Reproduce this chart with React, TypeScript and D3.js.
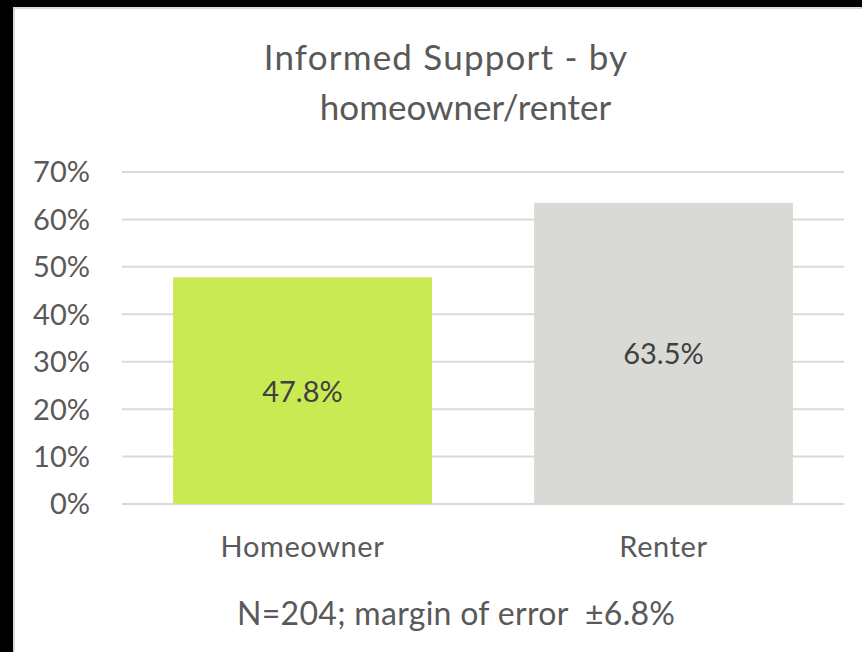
import React, { useEffect, useRef } from 'react';
import * as d3 from 'd3';

const categories = ['Homeowner', 'Renter'];
const values = [47.8, 63.5];
const barColors = ['#C9EA52', '#D9D9D6'];
const yTicks = [0, 10, 20, 30, 40, 50, 60, 70];
const titleLines = ['Informed Support - by', 'homeowner/renter'];
const footnote = 'N=204; margin of error  \u00B16.8%';

const W = 862;
const H = 652;
const FONT = 'Lato, "Open Sans", sans-serif';

const App = () => {
    const chartRef = useRef<HTMLDivElement>(null);

    useEffect(() => {
        document.body.style.margin = '0';
        drawChart();
    }, []);

    const drawChart = () => {
        d3.select(chartRef.current).selectAll('svg').remove();
        const svg = d3.select(chartRef.current)
            .append('svg')
            .attr('width', W)
            .attr('height', H)
            .style('display', 'block')
            .style('font-family', FONT);

        svg.append('rect').attr('width', W).attr('height', H).attr('fill', '#fff');

        // black frame on top and left, as in the screenshot
        svg.append('rect').attr('x', 0).attr('y', 0).attr('width', W).attr('height', 7).attr('fill', '#000');
        svg.append('rect').attr('x', 0).attr('y', 0).attr('width', 13).attr('height', H).attr('fill', '#000');
        svg.append('line').attr('x1', 13).attr('x2', W).attr('y1', 8).attr('y2', 8)
            .attr('stroke', '#d9d9d9').attr('stroke-width', 2);
        svg.append('line').attr('x1', 14).attr('x2', 14).attr('y1', 7).attr('y2', H)
            .attr('stroke', '#d9d9d9').attr('stroke-width', 2);

        const xScale = d3.scaleBand<string>()
            .domain(categories)
            .range([122, 844])
            .paddingInner(0.283)
            .paddingOuter(0.1415);

        const yScale = d3.scaleLinear()
            .domain([0, 70])
            .range([504, 172]);

        // gridlines
        svg.append('g')
            .selectAll('line')
            .data(yTicks)
            .enter()
            .append('line')
            .attr('x1', 122)
            .attr('x2', 844)
            .attr('y1', d => yScale(d))
            .attr('y2', d => yScale(d))
            .attr('stroke', '#d9d9d9')
            .attr('stroke-width', 2);

        // y tick labels
        svg.append('g')
            .selectAll('text')
            .data(yTicks)
            .enter()
            .append('text')
            .attr('x', 90)
            .attr('y', d => yScale(d))
            .attr('dy', '0.36em')
            .attr('text-anchor', 'end')
            .attr('fill', '#595959')
            .style('font-size', '29px')
            .text(d => d + '%');

        // bars
        svg.append('g')
            .selectAll('rect')
            .data(values)
            .enter()
            .append('rect')
            .attr('x', (d, i) => xScale(categories[i])!)
            .attr('y', d => yScale(d))
            .attr('width', xScale.bandwidth())
            .attr('height', d => yScale(0) - yScale(d))
            .attr('fill', (d, i) => barColors[i]);

        // value labels
        svg.append('g')
            .selectAll('text')
            .data(values)
            .enter()
            .append('text')
            .attr('x', (d, i) => xScale(categories[i])! + xScale.bandwidth() / 2)
            .attr('y', d => (yScale(d) + yScale(0)) / 2)
            .attr('dy', '0.38em')
            .attr('text-anchor', 'middle')
            .attr('fill', '#404040')
            .style('font-size', '29px')
            .text(d => d.toFixed(1) + '%');

        // category labels
        svg.append('g')
            .selectAll('text')
            .data(categories)
            .enter()
            .append('text')
            .attr('x', d => xScale(d)! + xScale.bandwidth() / 2)
            .attr('y', 557)
            .attr('text-anchor', 'middle')
            .attr('fill', '#595959')
            .style('font-size', '29px')
            .style('letter-spacing', '0.6px')
            .text(d => d);

        // title, two lines
        const titleX = [446, 465.5];
        svg.append('g')
            .selectAll('text')
            .data(titleLines)
            .enter()
            .append('text')
            .attr('x', (d, i) => titleX[i])
            .attr('y', (d, i) => 70 + i * 50)
            .attr('text-anchor', 'middle')
            .attr('fill', '#595959')
            .style('font-size', '35px')
            .style('letter-spacing', (d, i) => (i === 0 ? '1.2px' : '0px'))
            .text(d => d);

        svg.append('text')
            .attr('x', 456)
            .attr('y', 625)
            .attr('text-anchor', 'middle')
            .attr('textLength', 438)
            .attr('lengthAdjust', 'spacing')
            .attr('fill', '#595959')
            .style('font-size', '32px')
            .style('white-space', 'pre')
            .text(footnote);
    };

    return <div ref={chartRef}></div>;
};

export default App;
